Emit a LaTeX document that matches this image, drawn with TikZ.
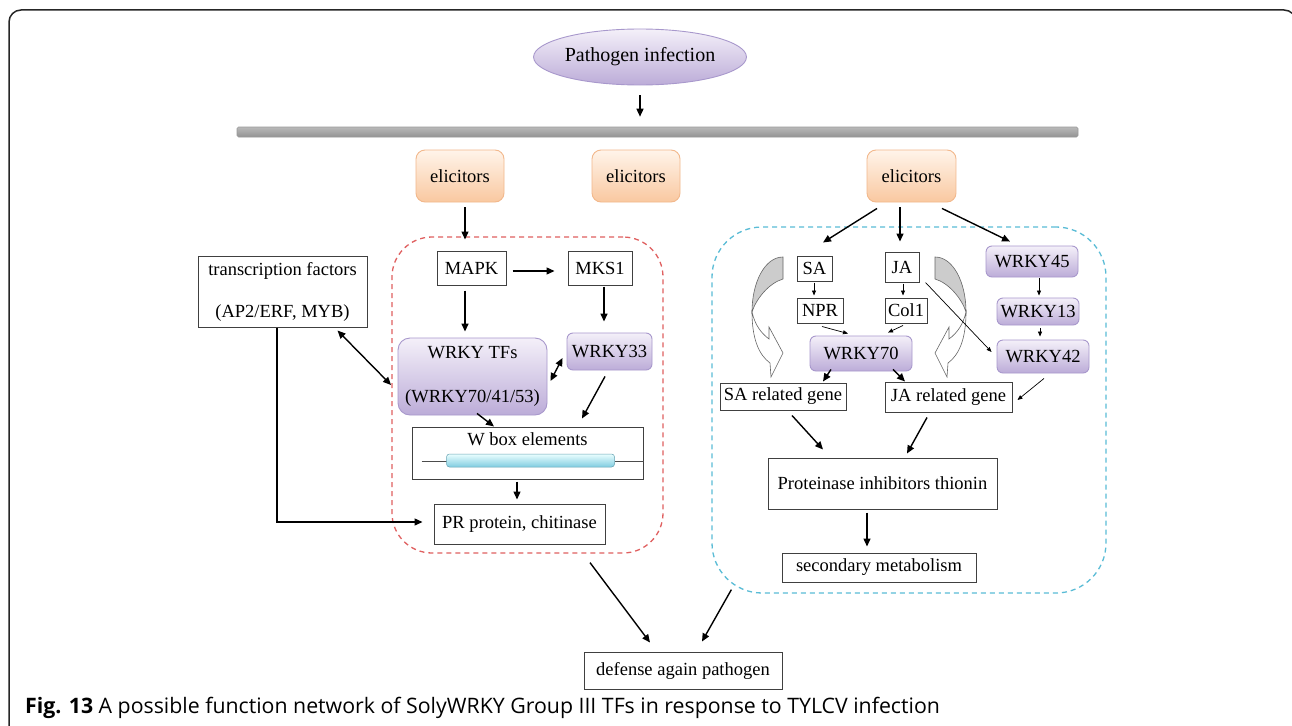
\documentclass[tikz,border=0pt]{standalone}
\usepackage{fontspec}
\setmainfont{Liberation Serif}
\newfontfamily\capfont{Open Sans}
\usetikzlibrary{arrows.meta,calc,shapes.geometric}
\newcommand\dfont{\fontsize{18.5}{22}\selectfont}
\definecolor{purpB}{RGB}{168,152,204}
\definecolor{purpT}{RGB}{244,240,249}
\definecolor{purpD}{RGB}{188,172,216}
\definecolor{orB}{RGB}{242,184,140}
\definecolor{orT}{RGB}{255,244,234}
\definecolor{orD}{RGB}{249,200,160}
\definecolor{redD}{RGB}{224,96,96}
\definecolor{cyD}{RGB}{90,188,214}
\definecolor{cylD}{RGB}{128,204,224}
\tikzset{
  box/.style={draw=black!75, line width=1pt, fill=white, inner sep=0pt, font=\dfont, align=center},
  purp/.style={draw=purpB, line width=0.9pt, rounded corners=6pt, top color=purpT, bottom color=purpD, inner sep=0pt, font=\dfont, align=center},
  elic/.style={draw=orB, line width=0.9pt, rounded corners=9pt, top color=orT, bottom color=orD, inner sep=0pt, font=\dfont, minimum width=88pt, minimum height=52pt},
  arr/.style={-{Triangle[length=8pt,width=7pt]}, line width=1.4pt},
  tarr/.style={-{Triangle[length=5pt,width=4pt]}, line width=0.7pt},
  darr/.style={{Triangle[length=8pt,width=7pt]}-{Triangle[length=8pt,width=7pt]}, line width=1.4pt},
  curv/.pic={
    \filldraw[fill=gray!40, draw=black!60, line width=0.6pt] (0,0) .. controls (18,0) and (31,25) .. (31,55) .. controls (27,42) and (14,26) .. (0,22) -- cycle;
    \filldraw[fill=white, draw=black!60, line width=0.6pt] (31,55) .. controls (31,82) and (24,98) .. (13,106) -- (12,120) -- (0,96) -- (14,70) -- (14,82) .. controls (22,76) and (28,68) .. (31,55) -- cycle;
  }
}
\begin{document}
\begin{tikzpicture}[x=1pt,y=-1pt]
\useasboundingbox (0,0) rectangle (1292,725);
\clip (0,0) rectangle (1292,725);
\fill[white] (0,0) rectangle (1292,725);
\draw[line width=1.5pt, black!85, rounded corners=12pt] (9,10) rectangle (1296,760);

% group frames
\node[draw=redD, dashed, dash pattern=on 5pt off 4pt, line width=1.3pt, rounded corners=40pt, minimum width=271pt, minimum height=316pt, inner sep=0] (redbox) at (527.5,395) {};
\node[draw=cyD, dashed, dash pattern=on 5pt off 4pt, line width=1.3pt, rounded corners=50pt, minimum width=394pt, minimum height=366pt, inner sep=0] (cybox) at (909,410) {};

% top
\node[ellipse, minimum width=200pt, minimum height=56pt, inner sep=0, draw=purpB, line width=0.9pt, top color=purpT, bottom color=purpD, font=\fontsize{20}{24}\selectfont] (path) at (640,57) {Pathogen infection};
\node[minimum width=841pt, minimum height=10pt, inner sep=0, draw=gray!80, line width=0.6pt, rounded corners=1.5pt, top color=gray!55, middle color=white, bottom color=gray!85] (bar) at (657.5,132) {};

\node[elic] (el1) at (460,176) {elicitors};
\node[elic] (el2) at (636,176) {elicitors};
\node[elic, minimum width=89pt] (el3) at (911.5,176) {elicitors};

% left part
\node[box, minimum width=169pt, minimum height=71pt] (tf) at (282.5,291.5) {transcription factors\\[20pt] (AP2/ERF, MYB)};
\node[box, minimum width=69pt, minimum height=34pt] (mapk) at (471.5,268) {MAPK};
\node[box, minimum width=64pt, minimum height=34pt] (mks1) at (600,268) {MKS1};
\node[purp, rounded corners=12pt, minimum width=149pt, minimum height=77pt] (wtf) at (472.5,376.5) {WRKY TFs\\[22pt](WRKY70/41/53)};
\node[purp, minimum width=85pt, minimum height=37pt] (w33) at (609.5,351.5) {WRKY33};
\node[box, minimum width=231pt, text height=18pt, text depth=34pt] (wbox) at (527.5,453) {W box elements};
\draw[line width=0.8pt, black!70] ($(wbox.west)+(10,8)$) -- ($(wbox.west)+(35,8)$) ($(wbox.east)+(-29,8)$) -- ($(wbox.east)+(0,8)$);
\draw[draw=cylD!80!black, line width=0.5pt, rounded corners=3pt, top color=cyan!8, bottom color=cylD] ($(wbox.west)+(35,1)$) rectangle ($(wbox.east)+(-29,14)$);
\node[box, minimum width=171pt, minimum height=40pt] (pr) at (519.5,524) {PR protein, chitinase};
\node[box, minimum width=198pt, minimum height=37pt] (def) at (683,670.5) {defense again pathogen};

% right part
\node[box, minimum width=35pt, minimum height=25pt] (sa) at (814.5,268.5) {SA};
\node[box, minimum width=34pt, minimum height=30pt] (ja) at (902,267) {JA};
\node[box, minimum width=46pt, minimum height=25pt] (npr) at (820,310.5) {NPR};
\node[box, minimum width=42pt, minimum height=25pt] (col1) at (906,310.5) {Col1};
\node[purp, minimum width=102pt, minimum height=35pt] (w70) at (861,353.5) {WRKY70};
\node[box, minimum width=126pt, minimum height=27pt] (sarg) at (783,396.5) {SA related gene};
\node[box, minimum width=127pt, minimum height=30pt] (jarg) at (948.5,397) {JA related gene};
\node[purp, minimum width=92pt, minimum height=31pt] (w45) at (1032,261.5) {WRKY45};
\node[purp, minimum width=82pt, minimum height=27pt] (w13) at (1038,311.5) {WRKY13};
\node[purp, minimum width=92pt, minimum height=33pt] (w42) at (1043,356.5) {WRKY42};
\node[box, minimum width=229pt, minimum height=51pt] (pit) at (882.5,483.5) {Proteinase inhibitors thionin};
\node[box, minimum width=194pt, minimum height=29pt] (sec) at (879,567.5) {secondary metabolism};

\pic[xscale=-1] at (783,257) {curv};
\pic at (935,257) {curv};

% connectors
\draw[arr] ($(path.south)+(0,10)$) -- ($(path.south |- bar.north)+(0,-10)$);
\draw[arr] ($(el1.south)+(5,5)$) -- ($(mapk.north)+(-6.5,-11)$);
\draw[arr] ($(mapk.east)+(6,3)$) -- ($(mks1.west)+(-13,3)$);
\draw[arr] ($(mapk.south)+(-6.5,5)$) -- ($(wtf.north)+(-7.5,-6)$);
\draw[arr] ($(mks1.south)+(4,1)$) -- ($(w33.north)+(-5.5,-11)$);
\draw[darr] ($(tf.south east)+(-30,3)$) -- ($(wtf.west)+(-6.5,8.5)$);
\draw[darr] ($(w33.west)+(-4,6.5)$) -- ($(wtf.east)+(3,4.5)$);
\draw[arr] ($(wtf.south)+(4.5,-2)$) -- ($(wbox.north)+(-33.5,0)$);
\draw[arr] ($(w33.south)+(-4.5,6)$) -- ($(wbox.north)+(54.5,-8)$);
\draw[arr] ($(wbox.south)+(-10.5,2)$) -- ($(pr.north)+(-2.5,-4)$);
\draw[arr] ($(tf.south)+(-5.5,0)$) |- ($(pr.west)+(-11,-2)$);
\draw[arr] ($(redbox.south)+(62.5,9)$) -- ($(def.north)+(-33,-9)$);
\draw[arr] ($(cybox.south west)+(20,-4)$) -- ($(def.north)+(19,-10)$);

\draw[arr] ($(el3.south)+(-34.5,6)$) -- ($(sa.north)+(8.5,-13)$);
\draw[arr] ($(el3.south)+(-11.5,5)$) -- ($(ja.north)+(-2,-10)$);
\draw[arr] ($(el3.south)+(30.5,6)$) -- ($(w45.north)+(-22,-4)$);
\draw[tarr] ($(sa.south)+(-0.5,1)$) -- ($(npr.north)+(-6,-2)$);
\draw[tarr] ($(ja.south)+(1,1)$) -- ($(col1.north)+(-3,-2)$);
\draw[tarr] ($(npr.south)+(2,3)$) -- ($(w70.north)+(-13,-2)$);
\draw[tarr] ($(col1.south)+(-3,2)$) -- ($(w70.north)+(27,-3)$);
\draw[arr] ($(w70.south)+(-30,-2)$) -- ($(sarg.north)+(40,-1)$);
\draw[arr] ($(w70.south)+(32,-2)$) -- ($(jarg.north)+(-43.5,0)$);
\draw[tarr] ($(w45.south)+(7,1)$) -- ($(w13.north)+(1,-2)$);
\draw[tarr] ($(w13.south)+(2,3)$) -- ($(w42.north)+(-3,-3)$);
\draw[tarr] ($(ja.south east)+(6,0)$) -- ($(w42.west)+(-5,-4.5)$);
\draw[tarr] ($(w42.south)+(1,5)$) -- ($(jarg.east)+(5,3)$);
\draw[arr] ($(sarg.south)+(9,5)$) -- ($(pit.north)+(-59.5,-8)$);
\draw[arr] ($(jarg.south)+(-21.5,5)$) -- ($(pit.north)+(24.5,-4)$);
\draw[arr] ($(pit.south)+(-15.5,3)$) -- ($(sec.north)+(-12,-6)$);

% caption
\node[anchor=base west, inner sep=0, font=\capfont\fontsize{21.3}{25}\selectfont] (cap) at (25,713) {\textbf{Fig. 13} A possible function network of SolyWRKY Group III TFs in response to TYLCV infection};
\end{tikzpicture}
\end{document}
